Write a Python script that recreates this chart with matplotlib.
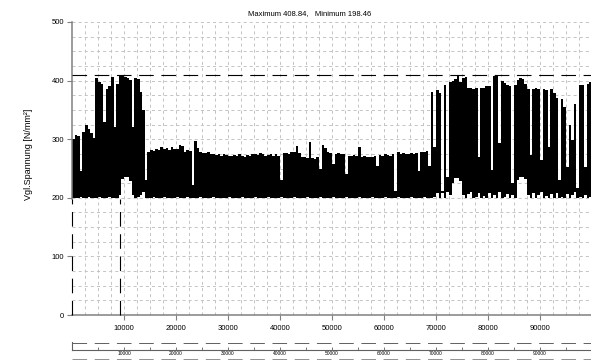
import numpy as np
import matplotlib
matplotlib.use('Agg')
import matplotlib.pyplot as plt

plt.rcParams['font.family'] = ['Liberation Sans', 'DejaVu Sans']
plt.rcParams['lines.scale_dashes'] = False

# sampled stress signal, one peak / valley pair per 500 units of x
step = 500
peak = [
    300, 308, 305, 245, 312, 325, 318, 310, 302, 405,
    397, 395, 330, 385, 390, 406, 320, 395, 409, 408,
    406, 404, 401, 320, 405, 403, 380, 350, 230, 278,
    282, 280, 284, 281, 287, 283, 285, 282, 286, 283,
    284, 290, 288, 279, 282, 280, 222, 297, 285, 278,
    277, 276, 278, 275, 274, 273, 274, 272, 275, 273,
    272, 271, 273, 272, 274, 272, 270, 273, 271, 274,
    275, 273, 276, 274, 272, 273, 275, 271, 274, 272,
    230, 276, 277, 275, 278, 278, 289, 276, 270, 269,
    268, 296, 268, 267, 269, 250, 290, 285, 278, 277,
    258, 275, 276, 274, 275, 240, 272, 271, 273, 272,
    287, 270, 271, 269, 270, 270, 271, 255, 273, 272,
    274, 273, 272, 275, 211, 279, 275, 276, 274, 275,
    276, 274, 277, 245, 278, 279, 280, 255, 381, 287,
    384, 378, 208, 392, 236, 398, 400, 403, 407, 398,
    405, 406, 388, 387, 386, 388, 270, 387, 388, 390,
    390, 247, 408, 409, 293, 400, 396, 393, 390, 225,
    392, 401, 404, 402, 395, 386, 273, 385, 387, 386,
    265, 385, 384, 287, 385, 378, 370, 230, 368, 355,
    253, 325, 299, 360, 216, 392, 393, 253, 395, 398,
]
valley = [
    200, 199, 200, 201, 199, 200, 202, 200, 199, 200,
    201, 200, 199, 200, 201, 200, 199, 200, 205, 232,
    236, 235, 228, 205, 200, 202, 205, 210, 200, 199,
    200, 201, 199, 200, 200, 201, 199, 200, 200, 199,
    201, 200, 199, 200, 201, 200, 199, 200, 200, 201,
    199, 200, 200, 199, 201, 200, 199, 200, 200, 199,
    201, 200, 199, 200, 200, 201, 199, 200, 200, 199,
    201, 200, 199, 200, 200, 201, 199, 200, 200, 199,
    201, 200, 199, 200, 200, 201, 199, 200, 200, 199,
    201, 200, 199, 200, 200, 201, 199, 200, 200, 199,
    201, 200, 199, 200, 200, 201, 199, 200, 200, 199,
    201, 200, 199, 200, 200, 201, 199, 200, 200, 199,
    201, 200, 199, 200, 200, 201, 199, 200, 200, 199,
    201, 200, 199, 200, 200, 201, 199, 200, 200, 201,
    208, 200, 212, 200, 210, 204, 225, 233, 234, 228,
    205, 200, 206, 210, 200, 202, 208, 200, 203, 200,
    209, 200, 204, 200, 210, 200, 202, 207, 200, 204,
    200, 230, 236, 236, 232, 205, 200, 208, 200, 204,
    210, 200, 203, 200, 206, 200, 209, 200, 202, 200,
    206, 200, 204, 210, 200, 202, 200, 205, 200, 202,
]
max_val = 408.84
min_val = 198.46
min_pos = [0, 9230]

title = 'Maximum %.2f,   Minimum %.2f' % (max_val, min_val)
ylabel = 'Vgl.Spannung [N/mm²]'
xmax = 99800

x = np.arange(len(peak) + 1) * step
hi = np.array(peak + peak[-1:])
lo = np.array(valley + valley[-1:])

fig = plt.figure(figsize=(5.91, 3.61), dpi=100)
W, H = 591, 361
ax = fig.add_axes([72 / W, (H - 315) / H, (W - 72) / W, 293 / H])

grid_kw = dict(color='#c4c4c4', lw=0.7, dashes=(2.2, 2.2), zorder=0)
for gx in np.arange(2500, xmax, 2500):
    ax.axvline(gx, **grid_kw)
for gy in np.arange(25, 501, 25):
    ax.axhline(gy, **grid_kw)

ax.fill_between(x, lo, hi, step='post', color='black', lw=0, zorder=2)

dash_kw = dict(color='black', lw=0.8, dashes=(10.5, 5.5), zorder=3)
ax.axhline(max_val, **dash_kw)
for p in min_pos:
    ax.plot([p, p], [0, min_val], clip_on=False, **dash_kw)

ax.set_xlim(0, xmax)
ax.set_ylim(0, 500)
ax.set_xticks(np.arange(10000, 100000, 10000))
ax.set_yticks(np.arange(0, 501, 100))
for s in ['top', 'right']:
    ax.spines[s].set_visible(False)
ax.spines['left'].set_bounds(min_val, 500)
for s in ['left', 'bottom']:
    ax.spines[s].set_color('#808080')
    ax.spines[s].set_linewidth(1.1)
ax.tick_params(axis='both', colors='#808080', labelcolor='black',
               length=3.5, width=0.8, labelsize=5.5, pad=2)
ax.tick_params(axis='x', pad=4)
ax.set_title(title, fontsize=5.5, pad=5, x=0.457)
ax.set_ylabel(ylabel, fontsize=6.5)
ax.yaxis.set_label_coords(-0.075, 0.55)

# overview strip below the main plot
ax2 = fig.add_axes([72 / W, (H - 350) / H, (W - 72) / W, 8 / H])
ax2.set_xlim(0, xmax)
ax2.set_ylim(0, 8)
ax2.set_yticks([])
for s in ['top', 'right']:
    ax2.spines[s].set_visible(False)
ax2.spines['bottom'].set_color('#606060')
ax2.spines['bottom'].set_linewidth(0.8)
ax2.spines['left'].set_color('#606060')
ax2.spines['left'].set_linewidth(0.8)
ax2.set_xticks(np.arange(10000, 100000, 10000))
ax2.set_xticks(np.arange(5000, 100000, 10000), minor=True)
ax2.tick_params(axis='x', direction='in', length=2.5, width=0.6,
                colors='#606060', labelcolor='black', labelsize=3.5, pad=1)
ax2.tick_params(axis='x', which='minor', direction='in', length=2.5, width=0.6,
                colors='#606060')
ax2.plot([0, xmax], [7, 7], color='#606060', lw=0.7, dashes=(10.5, 5.5))
ax2.plot([0, xmax], [-9, -9], color='#909090', lw=0.7, dashes=(10.5, 5.5),
         clip_on=False)

fig.savefig('out.png', dpi=100)
